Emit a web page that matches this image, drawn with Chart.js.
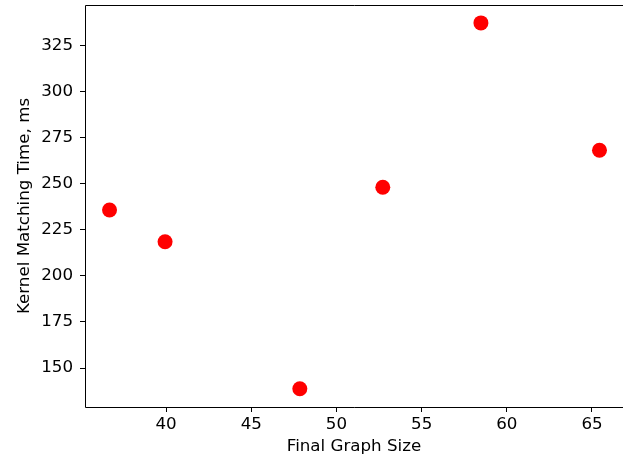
<!DOCTYPE html>
<html>
<head>
<meta charset="utf-8">
<script src="https://cdn.jsdelivr.net/npm/chart.js"></script>
<style>
  html, body { margin: 0; padding: 0; background: #fff; }
  #wrap { width: 623px; height: 460px; }
</style>
</head>
<body>
<div id="wrap"><canvas id="myChart" width="623" height="460"></canvas></div>
<script>
// values
const graphSize = [36.68, 39.94, 47.85, 52.72, 58.48, 65.44]
const matchTime = [235.7, 218.5, 138.8, 248.0, 337.1, 268.1]
const xTicks = [40, 45, 50, 55, 60, 65]
const yTicks = [150, 175, 200, 225, 250, 275, 300, 325]

const points = graphSize.map((x, i) => ({ x: x, y: matchTime[i] }))
const font = { family: 'DejaVu Sans', size: 16.7 }

// matplotlib-like frame (right side is cut off in the original)
const frame = {
  id: 'frame',
  afterDraw(chart) {
    const a = chart.chartArea
    const c = chart.ctx
    const l = Math.round(a.left) + 0.5
    const t = Math.round(a.top) + 0.5
    const b = Math.round(a.bottom) + 0.5
    c.save()
    c.strokeStyle = '#000'
    c.lineWidth = 1
    c.beginPath()
    c.moveTo(chart.width, t)
    c.lineTo(l, t)
    c.lineTo(l, b)
    c.lineTo(chart.width, b)
    c.stroke()
    c.restore()
  }
}

function noPad(s) {
  s.paddingTop = 0
  s.paddingBottom = 0
  s.paddingLeft = 0
  s.paddingRight = 0
}

const ctx = document.getElementById('myChart')

new Chart(ctx, {
  type: 'scatter',
  data: {
    datasets: [{
      data: points,
      backgroundColor: '#ff0000',
      borderWidth: 0,
      pointRadius: 7.5,
      pointHoverRadius: 7.5,
      clip: false
    }]
  },
  options: {
    responsive: false,
    animation: false,
    events: [],
    layout: { autoPadding: false, padding: { top: 5, right: 0, left: 0, bottom: 0 } },
    plugins: { legend: { display: false }, tooltip: { enabled: false } },
    scales: {
      x: {
        min: 35.24,
        max: 66.82,
        afterBuildTicks: s => { s.ticks = xTicks.map(v => ({ value: v })) },
        afterFit: s => { s.height = 53; noPad(s) },
        grid: { drawOnChartArea: false, drawTicks: true, tickLength: 5, color: '#000' },
        border: { display: false },
        ticks: { color: '#000', font: font, padding: 3, maxRotation: 0 },
        title: { display: true, text: 'Final Graph Size', color: '#000', font: font, padding: { top: 0, bottom: 3 } }
      },
      y: {
        min: 128.9,
        max: 346.8,
        afterBuildTicks: s => { s.ticks = yTicks.map(v => ({ value: v })) },
        afterFit: s => { s.width = 85; noPad(s) },
        grid: { drawOnChartArea: false, drawTicks: true, tickLength: 5, color: '#000' },
        border: { display: false },
        ticks: { color: '#000', font: font, padding: 7 },
        title: { display: true, text: 'Kernel Matching Time, ms', color: '#000', font: font, padding: { top: 15, bottom: 0 } }
      }
    }
  },
  plugins: [frame]
})
</script>
</body>
</html>
